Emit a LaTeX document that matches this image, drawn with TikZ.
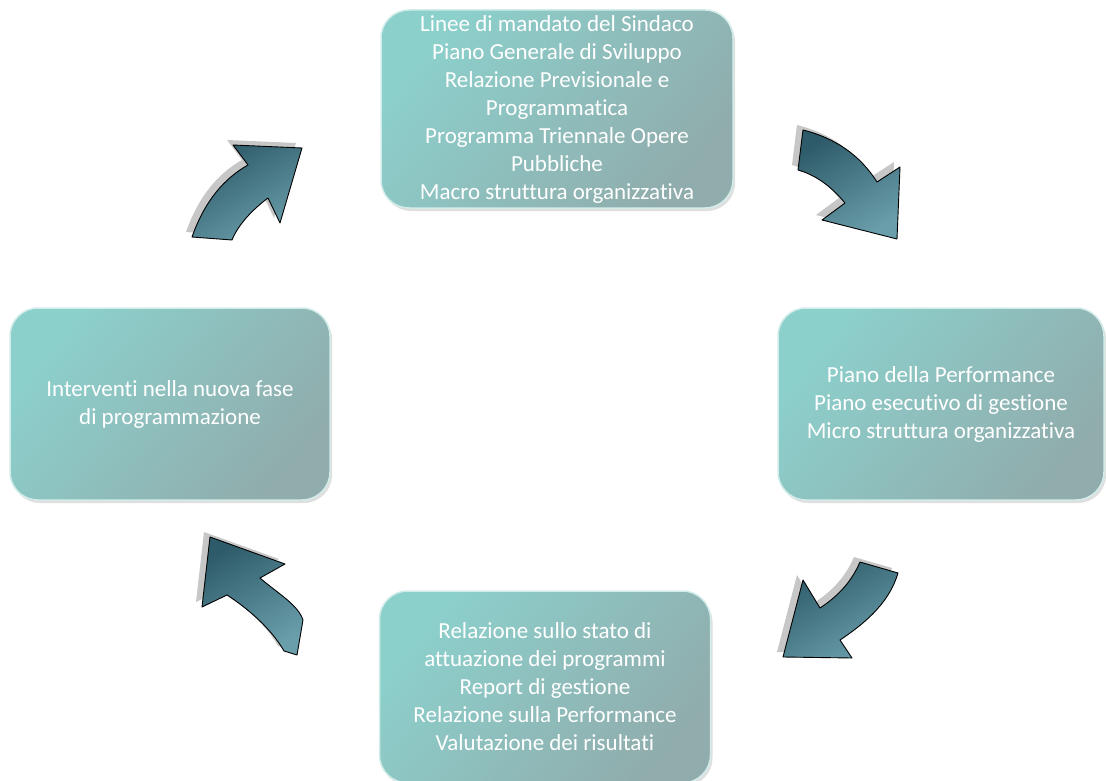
\documentclass[tikz,border=0pt]{standalone}
\usepackage{fontspec}
\setmainfont{Carlito}[Ligatures={NoCommon}]
\usetikzlibrary{shadows}
\definecolor{boxlight}{HTML}{8CD0CC}
\definecolor{boxdark}{HTML}{90ACAC}
\definecolor{boxrim}{HTML}{D2ECEA}
\definecolor{arrowdark}{HTML}{2E5B69}
\definecolor{arrowlight}{HTML}{6A9EAB}
\begin{document}
\begin{tikzpicture}
    [x=1pt,y=-1pt,
    phase/.style={rectangle, rounded corners=28pt, draw=boxrim, line width=1.5pt,
      top color=boxlight, bottom color=boxdark, shading angle=50,
      text=white, align=center,
      font=\fontsize{23}{28}\selectfont, inner sep=0pt,
      drop shadow={shadow xshift=2pt, shadow yshift=-3pt, fill=black!25}},
    cyclearrow/.style={draw=black, line width=0.9pt, line join=round,
      top color=arrowdark, bottom color=arrowlight, shading angle=30,
      preaction={fill=black!22, transform canvas={shift={(-6,-5)}}}}]
    \useasboundingbox (0,0) rectangle (1106,781);
    % fasi del ciclo
    \node[phase, minimum width=352pt, minimum height=198pt] (mandato) at (557,109)
      {Linee di mandato del Sindaco\\Piano Generale di Sviluppo\\Relazione Previsionale e\\Programmatica\\Programma Triennale Opere\\Pubbliche\\Macro struttura organizzativa};
    \node[phase, minimum width=326pt, minimum height=192pt] (piano) at (941,404)
      {Piano della Performance\\Piano esecutivo di gestione\\Micro struttura organizzativa};
    \node[phase, minimum width=331pt, minimum height=192pt] (relazione) at (545,687)
      {Relazione sullo stato di\\attuazione dei programmi\\Report di gestione\\Relazione sulla Performance\\Valutazione dei risultati};
    \node[phase, minimum width=320pt, minimum height=192pt] (interventi) at (170,404)
      {Interventi nella nuova fase\\di programmazione};
    % frecce
    \draw[cyclearrow] (192,237) .. controls (205,200) and (225,178) .. (248,165)
      -- (233,145) -- (302,148) -- (280,223) -- (268,198)
      .. controls (252,210) and (238,225) .. (232,240) -- cycle;
    \draw[cyclearrow] (803,130) .. controls (835,138) and (860,155) .. (877,182)
      -- (900,167) -- (897,239) -- (822,220) -- (845,203)
      .. controls (830,185) and (815,175) .. (798,170) -- cycle;
    \draw[cyclearrow] (860,562) .. controls (850,585) and (835,598) .. (820,608)
      -- (803,580) -- (783,657) -- (852,658) -- (840,640)
      .. controls (870,620) and (890,600) .. (898,573) -- cycle;
    \draw[cyclearrow] (210,537) -- (285,564) -- (260,578)
      .. controls (280,595) and (298,605) .. (303,620) -- (297,655) -- (284,651)
      .. controls (272,630) and (250,610) .. (227,595) -- (202,607) -- cycle;
\end{tikzpicture}
\end{document}
